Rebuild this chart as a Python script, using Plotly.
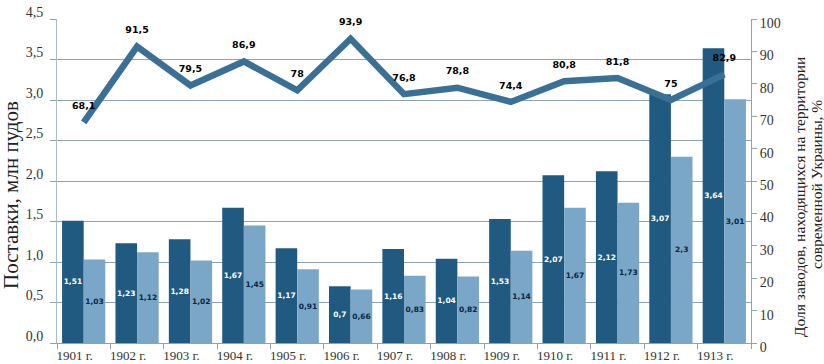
import plotly.graph_objects as go

years = ["1901 г.", "1902 г.", "1903 г.", "1904 г.", "1905 г.", "1906 г.", "1907 г.",
         "1908 г.", "1909 г.", "1910 г.", "1911 г.", "1912 г.", "1913 г."]
supply_a = [1.51, 1.23, 1.28, 1.67, 1.17, 0.7, 1.16, 1.04, 1.53, 2.07, 2.12, 3.07, 3.64]
supply_b = [1.03, 1.12, 1.02, 1.45, 0.91, 0.66, 0.83, 0.82, 1.14, 1.67, 1.73, 2.3, 3.01]
share = [68.1, 91.5, 79.5, 86.9, 78, 93.9, 76.8, 78.8, 74.4, 80.8, 81.8, 75, 82.9]

left_tickvals = [0, 0.5, 1.0, 1.5, 2.0, 2.5, 3.0, 3.5, 4.0]
left_ticktext = ["0,0", "0,5", "1,0", "1,5", "2,0", "2,5", "3,0", "3,5", "4,5"]
right_tickvals = [0, 10, 20, 30, 40, 50, 60, 70, 80, 90, 100]


def fmt(v):
    return ("%g" % v).replace(".", ",")


DARK = "#205a80"
LIGHT = "#7aa7c8"
LINE = "#3a6f96"
GRID = "#8ea2b0"
SERIF = "Liberation Serif, Times New Roman, serif"
SANS = "DejaVu Sans"

fig = go.Figure()
fig.add_trace(go.Bar(
    x=years, y=supply_a, marker=dict(color=DARK, line=dict(width=0)),
    text=[fmt(v) for v in supply_a], textposition="inside", insidetextanchor="middle",
    textfont=dict(family=SANS, size=7.5, color="white", weight="bold"),
    textangle=0, yaxis="y", hoverinfo="skip", showlegend=False,
))
fig.add_trace(go.Bar(
    x=years, y=supply_b, marker=dict(color=LIGHT, line=dict(width=0)),
    text=[fmt(v) for v in supply_b], textposition="inside", insidetextanchor="middle",
    textfont=dict(family=SANS, size=7.5, color="#0b2540", weight="bold"),
    textangle=0, yaxis="y", hoverinfo="skip", showlegend=False,
))
fig.add_trace(go.Scatter(
    x=years, y=share, yaxis="y2", mode="lines+markers+text",
    line=dict(color=LINE, width=6.5),
    marker=dict(size=16, color="rgba(0,0,0,0)"),
    text=[fmt(v) for v in share], textposition="top center",
    textfont=dict(family=SANS, size=9.5, color="black", weight="bold"),
    cliponaxis=False, hoverinfo="skip", showlegend=False,
))

fig.update_layout(
    template="none",
    font=dict(family=SERIF, color="#333333"),
    width=824, height=364,
    margin=dict(l=57, r=73, t=19, b=21, autoexpand=False),
    paper_bgcolor="white", plot_bgcolor="white",
    barmode="group", bargap=0.19, bargroupgap=0.0,
    uniformtext=dict(minsize=7.5, mode="show"),
    xaxis=dict(
        type="category", automargin=False, range=[-0.5, len(years) - 0.5],
        showgrid=False, showline=True, linecolor=GRID, linewidth=1,
        ticks="outside", ticklen=5, tickcolor=GRID, tickson="boundaries",
        tickfont=dict(family=SERIF, size=13, color="#333333"),
        ticklabelshift=-9,
    ),
    yaxis=dict(
        automargin=False,
        range=[0, 4.0], tickvals=left_tickvals, ticktext=left_ticktext,
        showgrid=True, gridcolor=GRID, gridwidth=1, zeroline=False,
        showline=True, linecolor="#a9bccb", linewidth=1,
        ticks="outside", ticklen=6, tickcolor=GRID,
        tickfont=dict(family=SERIF, size=14, color="#333333"),
        ticklabelshift=-7, ticklabelstandoff=4,
    ),
    yaxis2=dict(
        automargin=False,
        range=[0, 100], tickvals=right_tickvals, overlaying="y", side="right",
        showgrid=False, zeroline=False, showline=True, linecolor=GRID, linewidth=1,
        ticks="outside", ticklen=5, tickcolor=GRID,
        tickfont=dict(family=SERIF, size=14, color="#333333"),
        ticklabelshift=4,
    ),
    annotations=[
        dict(text="Поставки, млн пудов", textangle=-90, xref="paper", yref="paper",
             x=(11 - 57) / 694, y=(364 - 195 - 21) / 324, xanchor="center", yanchor="middle",
             showarrow=False, font=dict(family=SERIF, size=21, color="#222222")),
        dict(text="Доля заводов, находящихся на территории",
             textangle=-90, xref="paper", yref="paper",
             x=(799 - 57) / 694, y=(364 - 197 - 21) / 324, xanchor="center", yanchor="middle",
             showarrow=False, font=dict(family=SERIF, size=15.5, color="#222222")),
        dict(text="современной Украины, %",
             textangle=-90, xref="paper", yref="paper",
             x=(816 - 57) / 694, y=(364 - 185 - 21) / 324, xanchor="center", yanchor="middle",
             showarrow=False, font=dict(family=SERIF, size=15.5, color="#222222")),
    ],
)

fig.write_html(
    "out.html",
    config={"displayModeBar": False},
    post_script="document.body.style.margin='0';document.body.style.padding='0';",
)
